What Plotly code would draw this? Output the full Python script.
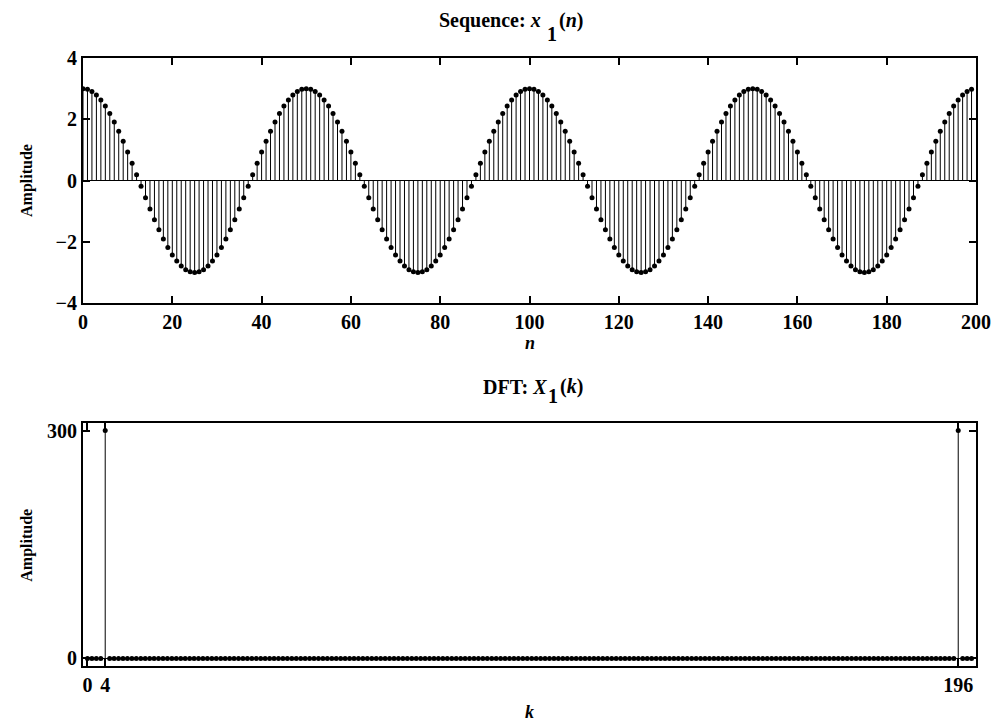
import plotly.graph_objects as go

# ---------------- data ----------------
n_values = list(range(200))
x1_values = [
    3.00, 2.98, 2.91, 2.79, 2.63, 2.43, 2.19, 1.91, 1.61, 1.28, 0.93, 0.56, 0.19, -0.19, -0.56, -0.93, -1.28,
    -1.61, -1.91, -2.19, -2.43, -2.63, -2.79, -2.91, -2.98, -3.00, -2.98, -2.91, -2.79, -2.63, -2.43, -2.19,
    -1.91, -1.61, -1.28, -0.93, -0.56, -0.19, 0.19, 0.56, 0.93, 1.28, 1.61, 1.91, 2.19, 2.43, 2.63, 2.79, 2.91, 2.98,
    3.00, 2.98, 2.91, 2.79, 2.63, 2.43, 2.19, 1.91, 1.61, 1.28, 0.93, 0.56, 0.19, -0.19, -0.56, -0.93, -1.28,
    -1.61, -1.91, -2.19, -2.43, -2.63, -2.79, -2.91, -2.98, -3.00, -2.98, -2.91, -2.79, -2.63, -2.43, -2.19,
    -1.91, -1.61, -1.28, -0.93, -0.56, -0.19, 0.19, 0.56, 0.93, 1.28, 1.61, 1.91, 2.19, 2.43, 2.63, 2.79, 2.91, 2.98,
    3.00, 2.98, 2.91, 2.79, 2.63, 2.43, 2.19, 1.91, 1.61, 1.28, 0.93, 0.56, 0.19, -0.19, -0.56, -0.93, -1.28,
    -1.61, -1.91, -2.19, -2.43, -2.63, -2.79, -2.91, -2.98, -3.00, -2.98, -2.91, -2.79, -2.63, -2.43, -2.19,
    -1.91, -1.61, -1.28, -0.93, -0.56, -0.19, 0.19, 0.56, 0.93, 1.28, 1.61, 1.91, 2.19, 2.43, 2.63, 2.79, 2.91, 2.98,
    3.00, 2.98, 2.91, 2.79, 2.63, 2.43, 2.19, 1.91, 1.61, 1.28, 0.93, 0.56, 0.19, -0.19, -0.56, -0.93, -1.28,
    -1.61, -1.91, -2.19, -2.43, -2.63, -2.79, -2.91, -2.98, -3.00, -2.98, -2.91, -2.79, -2.63, -2.43, -2.19,
    -1.91, -1.61, -1.28, -0.93, -0.56, -0.19, 0.19, 0.56, 0.93, 1.28, 1.61, 1.91, 2.19, 2.43, 2.63, 2.79, 2.91, 2.98,
]
k_values = list(range(200))
dft_values = [0] * 4 + [300] + [0] * 191 + [300] + [0] * 3

top_xticks = [0, 20, 40, 60, 80, 100, 120, 140, 160, 180, 200]
top_yticks = [-4, -2, 0, 2, 4]
bot_xticks = [0, 4, 196]
bot_yticks = [0, 300]

# title pieces (main text, subscript, argument)
title_top_parts = ["<b>Sequence: <i>x</i></b>", "<b>1</b>", "<b>(<i>n</i>)</b>"]
title_bot_parts = ["<b>DFT: <i>X</i></b>", "<b>1</b>", "<b>(<i>k</i>)</b>"]
ylabel = "<b>Amplitude</b>"
xlabel_top = "<b><i>n</i></b>"
xlabel_bot = "<b><i>k</i></b>"

FONT = "Liberation Serif"


def stem_xy(xs, ys):
    sx, sy = [], []
    for a, b in zip(xs, ys):
        sx += [a, a, None]
        sy += [0, b, None]
    return sx, sy


def fmt_tick(t):
    return "<b>" + ("\u2212" + str(-t) if t < 0 else str(t)) + "</b>"


fig = go.Figure()

# top stems
sx, sy = stem_xy(n_values, x1_values)
fig.add_trace(go.Scatter(x=sx, y=sy, mode="lines", line=dict(color="black", width=1),
                         xaxis="x", yaxis="y", hoverinfo="skip", showlegend=False))
fig.add_trace(go.Scatter(x=n_values, y=x1_values, mode="markers",
                         marker=dict(color="black", size=5), xaxis="x", yaxis="y", showlegend=False))

# bottom stems
sx, sy = stem_xy(k_values, dft_values)
fig.add_trace(go.Scatter(x=sx, y=sy, mode="lines", line=dict(color="black", width=1),
                         xaxis="x2", yaxis="y2", hoverinfo="skip", showlegend=False))
fig.add_trace(go.Scatter(x=k_values, y=dft_values, mode="markers",
                         marker=dict(color="black", size=5), xaxis="x2", yaxis="y2", showlegend=False))

axis_common = dict(showline=True, linecolor="black", linewidth=2, mirror="ticks",
                   ticks="inside", ticklen=7, tickwidth=2, tickcolor="black", automargin=False,
                   showgrid=False, tickfont=dict(family=FONT, size=20, color="black"))

fig.update_layout(
    width=993, height=722,
    paper_bgcolor="white", plot_bgcolor="white",
    margin=dict(l=83, r=17, t=58, b=56, autoexpand=False),
    font=dict(family=FONT, color="black"),
    xaxis=dict(domain=[0, 1], range=[0, 200], tickvals=top_xticks,
               ticktext=[fmt_tick(t) for t in top_xticks], anchor="y",
               zeroline=False, **axis_common),
    yaxis=dict(domain=[0.597, 1], range=[-4, 4], tickvals=top_yticks,
               ticktext=[fmt_tick(t) for t in top_yticks], anchor="x",
               zeroline=True, zerolinecolor="black", zerolinewidth=1, **axis_common),
    xaxis2=dict(domain=[0, 1], range=[-1, 200], tickvals=bot_xticks,
                ticktext=[fmt_tick(t) for t in bot_xticks], anchor="y2",
                zeroline=False, **axis_common),
    yaxis2=dict(domain=[0, 0.3997], range=[-10, 310], tickvals=bot_yticks,
                ticktext=[fmt_tick(t) for t in bot_yticks], anchor="x2",
                zeroline=True, zerolinecolor="black", zerolinewidth=1, **axis_common),
)


def add_text(text, x, y, size=20, xanchor="center", angle=0):
    fig.add_annotation(text=text, x=x, y=y, xref="paper", yref="paper",
                       showarrow=False, xanchor=xanchor, yanchor="middle", textangle=angle,
                       font=dict(family=FONT, size=size, color="black"))


# top title
add_text(title_top_parts[0], 0.5151, 1.0609, xanchor="right")
add_text(title_top_parts[1], 0.5252, 1.0395)
add_text(title_top_parts[2], 0.5308, 1.0609, xanchor="left")
# bottom title
add_text(title_bot_parts[0], 0.5218, 0.4589, xanchor="right")
add_text(title_bot_parts[1], 0.5263, 0.4441)
add_text(title_bot_parts[2], 0.5319, 0.4589, xanchor="left")

add_text(xlabel_top, 0.5, 0.531, size=18)
add_text(xlabel_bot, 0.5, -0.0757, size=18)
for yy in [0.799, 0.199]:
    add_text(ylabel, -0.063, yy, size=16, angle=-90)

fig.write_html("out.html", config={"displayModeBar": False},
               post_script="document.body.style.margin='0';")
